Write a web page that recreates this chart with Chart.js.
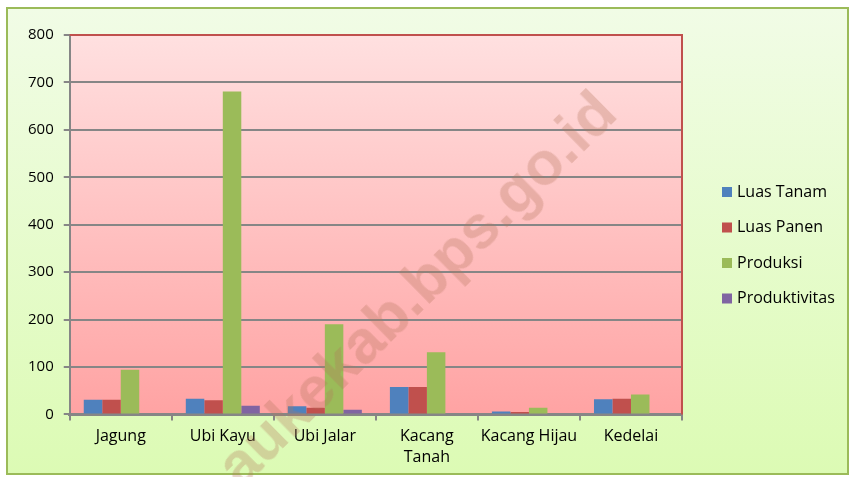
<!DOCTYPE html>
<html>
<head>
<meta charset="utf-8">
<script src="https://cdn.jsdelivr.net/npm/chart.js@4.4.0/dist/chart.umd.min.js"></script>
<style>
  html, body { margin: 0; padding: 0; background: #fff; }
  #wrap { position: relative; width: 851px; height: 477px; overflow: hidden; }
  #mark {
    position: absolute; left: 226px; top: 440px;
    font: bold 61px "Liberation Sans", sans-serif;
    color: rgba(180, 115, 90, 0.3);
    transform: rotate(-44.6deg); transform-origin: left center;
    white-space: nowrap; pointer-events: none;
  }
</style>
</head>
<body>
<div id="wrap">
  <canvas id="chart" width="851" height="477"></canvas>
  <div id="mark">aukekab.bps.go.id</div>
</div>
<script>
// Data
const categories = ['Jagung', 'Ubi Kayu', 'Ubi Jalar', ['Kacang', 'Tanah'], 'Kacang Hijau', 'Kedelai'];
const luasTanam = [31, 33, 17, 58, 6, 32];
const luasPanen = [31, 30, 14, 58, 5, 33];
const produksi = [94, 681, 190, 131, 14, 42];
const produktivitas = [0, 18, 10, 0, 0, 0];
const yTicks = [0, 100, 200, 300, 400, 500, 600, 700, 800];

const seriesNames = ['Luas Tanam', 'Luas Panen', 'Produksi', 'Produktivitas'];
const seriesColors = ['#4f81bd', '#c0504d', '#9bbb59', '#8064a2'];

// Backgrounds: outer frame and plot area, plus the legend on the right
const backdrop = {
  id: 'backdrop',
  beforeDraw(chart) {
    const { ctx, chartArea: a, width, height } = chart;
    ctx.save();
    let g = ctx.createLinearGradient(0, 8, 0, 474);
    g.addColorStop(0, '#f1fce6');
    g.addColorStop(1, '#dcfbb4');
    ctx.fillStyle = g;
    ctx.fillRect(7, 8, width - 10, height - 11);
    ctx.strokeStyle = '#9bbb59';
    ctx.lineWidth = 2;
    ctx.strokeRect(7, 8, width - 10, height - 11);

    g = ctx.createLinearGradient(0, a.top, 0, a.bottom);
    g.addColorStop(0, '#ffe0e0');
    g.addColorStop(1, '#ffa3a3');
    ctx.fillStyle = g;
    ctx.fillRect(a.left, a.top, a.right - a.left, a.bottom - a.top);
    ctx.restore();
  },
  afterDraw(chart) {
    const { ctx, chartArea: a } = chart;
    ctx.save();
    ctx.strokeStyle = '#c0504d';
    ctx.lineWidth = 2;
    ctx.beginPath();
    ctx.moveTo(a.left, a.top);
    ctx.lineTo(a.right, a.top);
    ctx.lineTo(a.right, a.bottom);
    ctx.stroke();

    // legend
    ctx.font = '16px "Open Sans"';
    ctx.textBaseline = 'middle';
    chart.data.datasets.forEach((ds, i) => {
      const y = 192 + i * 35.5;
      ctx.fillStyle = ds.backgroundColor;
      ctx.fillRect(722, y - 5, 10, 10);
      ctx.fillStyle = '#000';
      ctx.fillText(ds.label, 737, y);
    });
    ctx.restore();
  }
};

new Chart(document.getElementById('chart'), {
  type: 'bar',
  data: {
    labels: categories,
    datasets: [luasTanam, luasPanen, produksi, produktivitas].map((d, i) => ({
      label: seriesNames[i],
      data: d,
      backgroundColor: seriesColors[i],
      borderWidth: 0,
      categoryPercentage: 0.725,
      barPercentage: 1
    }))
  },
  options: {
    responsive: false,
    animation: false,
    layout: { padding: { left: 18, top: 35, right: 169, bottom: 3 } },
    plugins: {
      tooltip: { enabled: false },
      legend: { display: false }
    },
    scales: {
      y: {
        min: 0,
        max: 800,
        afterBuildTicks: axis => { axis.ticks = yTicks.map(v => ({ value: v })); },
        ticks: { color: '#000', font: { family: 'Open Sans', size: 15 }, padding: 10 },
        grid: { color: '#868686', lineWidth: 2, tickLength: 6 },
        border: { color: '#868686', width: 2 }
      },
      x: {
        ticks: { color: '#000', font: { family: 'Open Sans', size: 16, lineHeight: 1.3 }, padding: 6, maxRotation: 0, autoSkip: false },
        grid: { offset: true, drawOnChartArea: false, color: '#868686', lineWidth: 2, tickLength: 6 },
        border: { color: '#868686', width: 3 }
      }
    }
  },
  plugins: [backdrop]
});
</script>
</body>
</html>
